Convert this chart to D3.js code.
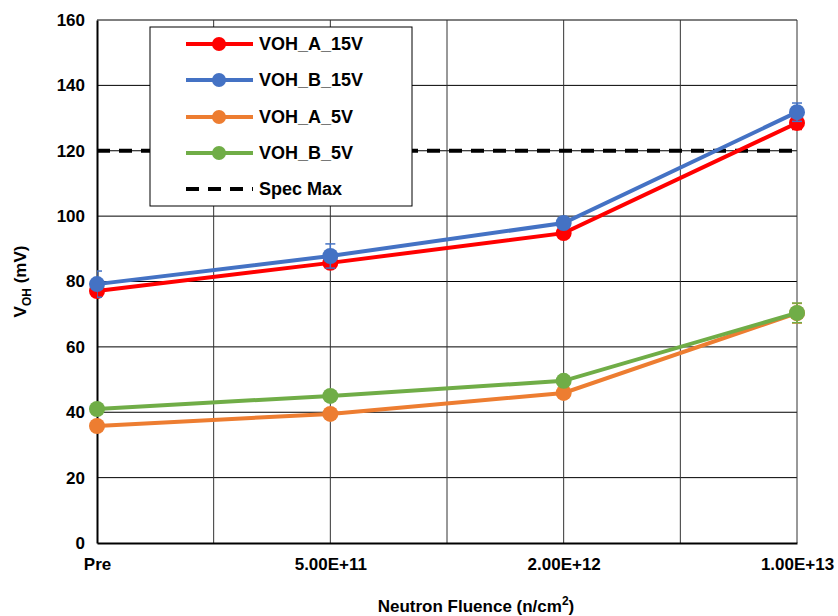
<!DOCTYPE html>
<html>
<head>
<meta charset="utf-8">
<script src="https://cdn.jsdelivr.net/npm/d3@7"></script>
<style>
  body { margin: 0; background: #fff; }
  text { font-family: "Liberation Sans", Arial, sans-serif; font-weight: bold; }
</style>
</head>
<body>
<div id="chart"></div>
<script>
// categories on the x axis
var fluence = ["Pre", "5.00E+11", "2.00E+12", "1.00E+13"];

// series values (mV)
var vohA15 = [77.1, 85.7, 94.8, 128.5];
var vohB15 = [79.2, 87.8, 97.9, 131.8];
var vohA5 = [35.8, 39.5, 45.9, 70.3];
var vohB5 = [41.0, 45.0, 49.6, 70.4];

// error bar half-widths (mV)
var errA15 = [1.5, 1.5, 1.5, 2.0];
var errB15 = [4.0, 3.7, 1.0, 2.8];
var errA5 = [1.0, 1.0, 1.0, 3.0];
var errB5 = [1.0, 1.0, 1.0, 3.0];

var specMax = 120;
var yTicks = [0, 20, 40, 60, 80, 100, 120, 140, 160];

var series = [
  { name: "VOH_A_15V", values: vohA15, err: errA15, color: "#ff0000" },
  { name: "VOH_B_15V", values: vohB15, err: errB15, color: "#4472c4" },
  { name: "VOH_A_5V", values: vohA5, err: errA5, color: "#ed7d31" },
  { name: "VOH_B_5V", values: vohB5, err: errB5, color: "#70ad47" }
];

var width = 838, height = 616;
// plot area edges
var plotL = 97, plotR = 797, plotT = 20, plotB = 543;

var svg = d3.select("#chart").append("svg")
  .attr("width", width)
  .attr("height", height);

var xScale = d3.scaleLinear().domain([0, fluence.length - 1]).range([plotL, plotR]);
var yScale = d3.scaleLinear().domain([0, 160]).range([plotB, plotT]);

// error bar caps get cut at the left axis, markers do not
svg.append("clipPath").attr("id", "plot")
  .append("rect").attr("x", plotL).attr("y", plotT - 10)
  .attr("width", plotR - plotL + 20).attr("height", plotB - plotT + 10);

// horizontal gridlines
svg.append("g").selectAll("line").data(yTicks.slice(1)).enter().append("line")
  .attr("x1", plotL).attr("x2", plotR)
  .attr("y1", function(d) { return yScale(d); })
  .attr("y2", function(d) { return yScale(d); })
  .attr("stroke", "#000").attr("stroke-width", 1);

// vertical gridlines at half steps
var halfSteps = d3.range(0.5, fluence.length - 0.5 + 0.01, 0.5);
svg.append("g").selectAll("line").data(halfSteps).enter().append("line")
  .attr("x1", function(d) { return xScale(d); })
  .attr("x2", function(d) { return xScale(d); })
  .attr("y1", plotT).attr("y2", plotB)
  .attr("stroke", "#333").attr("stroke-width", 1);

// axes
var yAxis = d3.axisLeft(yScale).tickValues(yTicks).tickSize(0).tickPadding(12);
var gy = svg.append("g").attr("transform", "translate(" + plotL + ",0)").call(yAxis);
gy.select(".domain").attr("stroke", "#000").attr("stroke-width", 2);
gy.selectAll("text").style("font-size", "17px").attr("fill", "#000");

var xAxis = d3.axisBottom(xScale).tickValues(d3.range(fluence.length))
  .tickFormat(function(d) { return fluence[d]; }).tickSize(0).tickPadding(15);
var gx = svg.append("g").attr("transform", "translate(0," + plotB + ")").call(xAxis);
gx.select(".domain").attr("stroke", "#000").attr("stroke-width", 2);
gx.selectAll("text").style("font-size", "17px").attr("fill", "#000");

// spec max line
svg.append("line")
  .attr("x1", xScale(0)).attr("x2", xScale(fluence.length - 1))
  .attr("y1", yScale(specMax)).attr("y2", yScale(specMax))
  .attr("stroke", "#000").attr("stroke-width", 4)
  .attr("stroke-dasharray", "13,9");

var line = d3.line()
  .x(function(d, i) { return xScale(i); })
  .y(function(d) { return yScale(d); });

series.forEach(function(s) {
  var g = svg.append("g");
  var eb = g.append("g").attr("clip-path", "url(#plot)");
  // error bars
  s.values.forEach(function(v, i) {
    var x = xScale(i);
    eb.append("line").attr("x1", x).attr("x2", x)
      .attr("y1", yScale(v - s.err[i])).attr("y2", yScale(v + s.err[i]))
      .attr("stroke", s.color).attr("stroke-width", 1.5);
    [v - s.err[i], v + s.err[i]].forEach(function(e) {
      eb.append("line").attr("x1", x - 5).attr("x2", x + 5)
        .attr("y1", yScale(e)).attr("y2", yScale(e))
        .attr("stroke", s.color).attr("stroke-width", 1.5);
    });
  });
  g.append("path").datum(s.values)
    .attr("d", line).attr("fill", "none")
    .attr("stroke", s.color).attr("stroke-width", 4);
  g.selectAll("circle").data(s.values).enter().append("circle")
    .attr("cx", function(d, i) { return xScale(i); })
    .attr("cy", function(d) { return yScale(d); })
    .attr("r", 8).attr("fill", s.color);
});

// legend
var legend = svg.append("g");
legend.append("rect").attr("x", 150).attr("y", 27).attr("width", 262).attr("height", 179)
  .attr("fill", "#fff").attr("stroke", "#000").attr("stroke-width", 1);
var rowY = [44, 80, 117, 153, 189];
series.forEach(function(s, i) {
  legend.append("line").attr("x1", 186).attr("x2", 253)
    .attr("y1", rowY[i]).attr("y2", rowY[i])
    .attr("stroke", s.color).attr("stroke-width", 4);
  legend.append("circle").attr("cx", 219).attr("cy", rowY[i]).attr("r", 7).attr("fill", s.color);
  legend.append("text").attr("x", 259).attr("y", rowY[i]).attr("dy", "0.36em")
    .style("font-size", "18px").text(s.name);
});
legend.append("line").attr("x1", 186).attr("x2", 253)
  .attr("y1", rowY[4]).attr("y2", rowY[4])
  .attr("stroke", "#000").attr("stroke-width", 4).attr("stroke-dasharray", "13,9");
legend.append("text").attr("x", 259).attr("y", rowY[4]).attr("dy", "0.36em")
  .style("font-size", "18px").text("Spec Max");

// axis titles
var yt = svg.append("text")
  .attr("transform", "translate(26," + ((plotT + plotB) / 2) + ") rotate(-90)")
  .attr("text-anchor", "middle").style("font-size", "17px");
yt.append("tspan").text("V");
yt.append("tspan").attr("dy", 5).style("font-size", "12px").text("OH");
yt.append("tspan").attr("dy", -5).text(" (mV)");

var xt = svg.append("text")
  .attr("x", 476).attr("y", 612)
  .attr("text-anchor", "middle").style("font-size", "17px");
xt.append("tspan").text("Neutron Fluence (n/cm");
xt.append("tspan").attr("dy", -7).style("font-size", "12px").text("2");
xt.append("tspan").attr("dy", 7).text(")");
</script>
</body>
</html>
